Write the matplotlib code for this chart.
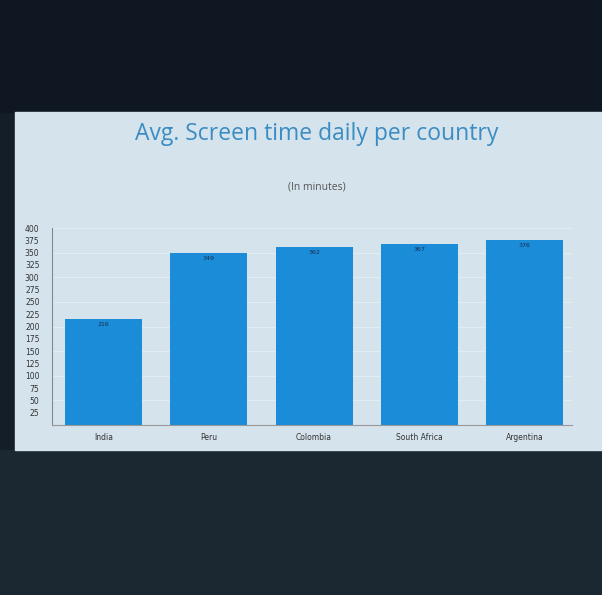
import matplotlib.pyplot as plt
from matplotlib.patches import Rectangle

countries = ["India", "Peru", "Colombia", "South Africa", "Argentina"]
minutes = [216, 349, 362, 367, 376]
yticks = list(range(25, 401, 25))

fig = plt.figure(figsize=(6.02, 5.95), dpi=100)
fig.patch.set_facecolor("#141e28")

# dark bands of the screen photo
fig.patches.append(Rectangle((0, 1 - 112 / 595), 1, 112 / 595, transform=fig.transFigure,
                             color="#0f1822", zorder=-10))
fig.patches.append(Rectangle((0, 0), 1, 1 - 450 / 595, transform=fig.transFigure,
                             color="#1b2731", zorder=-10))
# light panel
fig.patches.append(Rectangle((15 / 602, 1 - 450 / 595), 1, (450 - 112) / 595,
                             transform=fig.transFigure, color="#d5e3ed", zorder=-10))

ax = fig.add_axes([52 / 602, 1 - 425 / 595, 520 / 602, 197 / 595])
ax.set_facecolor("none")
ax.set_zorder(5)

x = range(len(countries))
bars = ax.bar(x, minutes, width=0.73, color="#1a8cd8", zorder=2)
for b, v in zip(bars, minutes):
    ax.text(b.get_x() + b.get_width() / 2, v - 6, str(v), ha="center", va="top",
            fontsize=4.5, color="#1a2f4f", zorder=3)

ax.set_xlim(-0.49, 4.45)
ax.set_ylim(0, 400)
ax.set_yticks(yticks)
ax.set_yticklabels([str(t) for t in yticks], fontsize=5.5, color="#333")
ax.set_xticks(list(x))
ax.set_xticklabels(countries, fontsize=5.5, color="#333")
ax.tick_params(axis="y", length=0, pad=9)
ax.tick_params(axis="x", length=0, pad=6)
for g in range(50, 401, 50):
    ax.axhline(g, color="#e2ecf3", linewidth=0.8, zorder=1)

for s in ["top", "right"]:
    ax.spines[s].set_visible(False)
ax.spines["left"].set_color("#888")
ax.spines["left"].set_linewidth(0.8)
ax.spines["bottom"].set_color("#999")
ax.spines["bottom"].set_linewidth(0.8)

fig.text(317 / 602, 1 - 134 / 595, "Avg. Screen time daily per country", ha="center",
         va="center", fontsize=16.5, color="#3b8cc3", family="Open Sans")
fig.text(317 / 602, 1 - 187 / 595, "(In minutes)", ha="center", va="center",
         fontsize=7.5, color="#555", family="Open Sans")

fig.savefig("out.png", dpi=100, facecolor=fig.get_facecolor())
